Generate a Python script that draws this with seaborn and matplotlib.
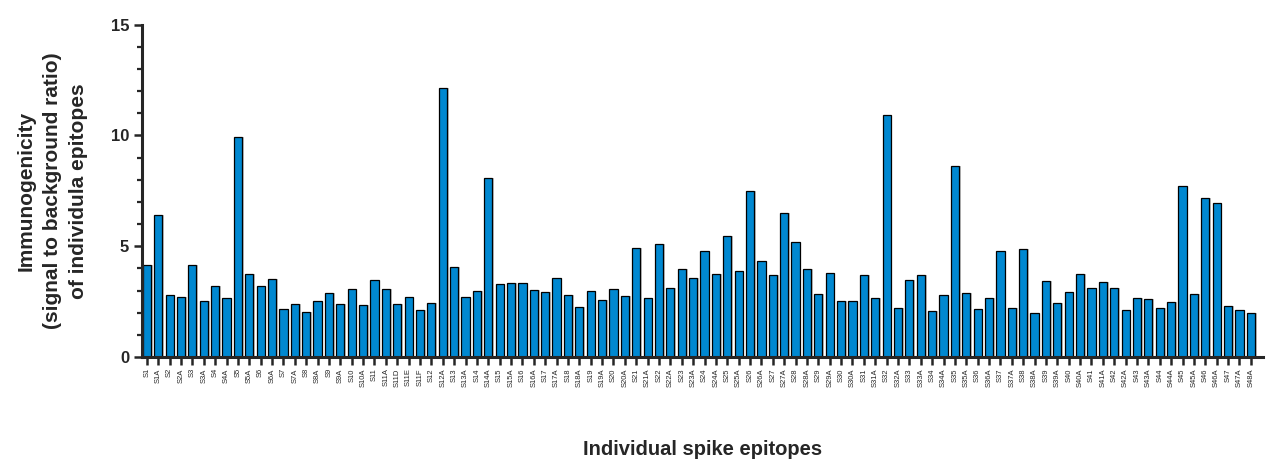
import pandas as pd
import matplotlib.pyplot as plt
import matplotlib.patheffects as pe
from matplotlib.ticker import MultipleLocator
import seaborn as sns

epitopes = [
    "S1", "S1A", "S2", "S2A", "S3", "S3A", "S4", "S4A", "S5", "S5A",
    "S6", "S6A", "S7", "S7A", "S8", "S8A", "S9", "S9A", "S10", "S10A",
    "S11", "S11A", "S11D", "S11E", "S11F", "S12", "S12A", "S13", "S13A", "S14",
    "S14A", "S15", "S15A", "S16", "S16A", "S17", "S17A", "S18", "S18A", "S19",
    "S19A", "S20", "S20A", "S21", "S21A", "S22", "S22A", "S23", "S23A", "S24",
    "S24A", "S25", "S25A", "S26", "S26A", "S27", "S27A", "S28", "S28A", "S29",
    "S29A", "S30", "S30A", "S31", "S31A", "S32", "S32A", "S33", "S33A", "S34",
    "S34A", "S35", "S35A", "S36", "S36A", "S37", "S37A", "S38", "S38A", "S39",
    "S39A", "S40", "S40A", "S41", "S41A", "S42", "S42A", "S43", "S43A", "S44",
    "S44A", "S45", "S45A", "S46", "S46A", "S47", "S47A", "S48A",
]

ratio = [
    4.16, 6.43, 2.79, 2.73, 4.14, 2.55, 3.19, 2.65, 9.91, 3.73,
    3.21, 3.52, 2.15, 2.41, 2.02, 2.55, 2.89, 2.38, 3.06, 2.33,
    3.46, 3.07, 2.41, 2.70, 2.11, 2.42, 12.12, 4.05, 2.71, 3.00,
    8.07, 3.31, 3.34, 3.33, 3.04, 2.94, 3.55, 2.79, 2.24, 3.00,
    2.59, 3.06, 2.77, 4.91, 2.67, 5.12, 3.10, 3.96, 3.55, 4.77,
    3.77, 5.48, 3.89, 7.49, 4.32, 3.72, 6.48, 5.18, 3.98, 2.85,
    3.78, 2.53, 2.55, 3.72, 2.65, 10.94, 2.20, 3.46, 3.69, 2.09,
    2.79, 8.60, 2.88, 2.15, 2.65, 4.79, 2.20, 4.87, 2.00, 3.43,
    2.42, 2.92, 3.73, 3.13, 3.39, 3.10, 2.11, 2.65, 2.61, 2.23,
    2.47, 7.71, 2.86, 7.17, 6.94, 2.29, 2.11, 1.99,
]

df = pd.DataFrame({"epitope": epitopes, "ratio": ratio})

sns.set_style("ticks")
plt.rcParams["font.family"] = ["Liberation Sans", "DejaVu Sans"]

fig = plt.figure(figsize=(12.71, 4.73), dpi=100)
ax = fig.add_axes([0.1115, 0.245, 0.882, 0.703])

sns.barplot(data=df, x="epitope", y="ratio", order=epitopes, color="#0088d1",
            saturation=1, edgecolor="black", linewidth=0.9, width=0.72, ax=ax)

# light grey drop shadow on the right side of each bar
for bar in ax.patches:
    bar.set_path_effects([pe.SimplePatchShadow(offset=(1.2, 0), shadow_rgbFace="#9a9a9a", alpha=0.6),
                          pe.Normal()])

ax.set_xlim(-0.45, 98.05)
ax.set_ylim(0, 15)
ax.yaxis.set_major_locator(MultipleLocator(5))
ax.yaxis.set_minor_locator(MultipleLocator(1))

sns.despine(ax=ax)
for side in ["left", "bottom"]:
    ax.spines[side].set_linewidth(2.2)

ax.tick_params(axis="y", which="major", length=6, width=1.8, labelsize=12, pad=3)
ax.tick_params(axis="y", which="minor", length=3.5, width=1.6)
ax.tick_params(axis="x", length=6, width=1.8, labelsize=5.5, rotation=90, pad=2)
for lbl in ax.get_yticklabels():
    lbl.set_fontweight("bold")

ax.set_xlabel("Individual spike epitopes", fontsize=14.5, fontweight="bold", labelpad=38)
ax.set_ylabel("Immunogenicity\n(signal to background ratio)\nof individula epitopes",
              fontsize=15, fontweight="bold", linespacing=1.5, labelpad=16)

fig.savefig("out.png", dpi=100)
